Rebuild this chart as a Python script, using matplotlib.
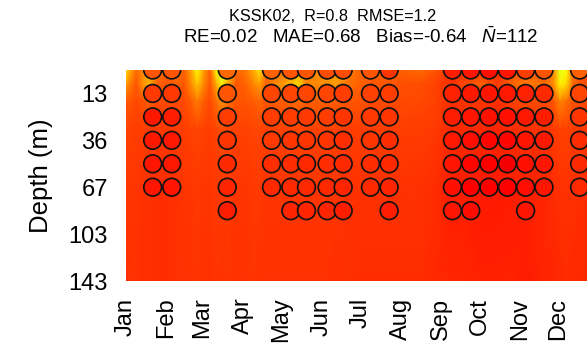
import numpy as np
import matplotlib
matplotlib.use("Agg")
import matplotlib.pyplot as plt
from matplotlib.colors import LinearSegmentedColormap, Normalize

plt.rcParams['font.family'] = ['Liberation Sans', 'DejaVu Sans']
plt.rcParams['mathtext.fontset'] = 'custom'
plt.rcParams['mathtext.rm'] = 'Liberation Sans'
plt.rcParams['mathtext.it'] = 'Liberation Sans:italic'

# ---------------- data ----------------
stats_line1 = "KSSK02,  R=0.8  RMSE=1.2"
stats_line2 = r"RE=0.02   MAE=0.68   Bias=-0.64   $\bar{N}$=112"

month_labels = ["Jan", "Feb", "Mar", "Apr", "May", "Jun",
                "Jul", "Aug", "Sep", "Oct", "Nov", "Dec"]
month_days = [1, 32, 60, 91, 121, 152, 182, 213, 244, 274, 305, 335]

depth_labels = ["13", "36", "67", "103", "143"]
depth_label_levels = [1, 3, 5, 7, 9]

# model field: time nodes (day of year) x level nodes (level index)
model_days = [1, 4, 9, 15, 19, 25, 32, 40, 46, 51, 56, 61, 66, 71, 75, 80, 86, 93,
              100, 104, 109, 116, 123, 130, 134, 140, 148, 156, 164, 172, 180, 192,
              204, 216, 228, 240, 252, 264, 276, 288, 300, 312, 324, 331, 336, 341,
              346, 352, 358, 366]
model_levels = [0, 0.6, 1.3, 2.5, 5, 9]

model_l00 = [34.30, 34.50, 34.85, 34.70, 34.60, 34.80, 34.90, 34.80, 34.90, 34.60,
             34.15, 34.60, 34.90, 34.10, 33.80, 34.30, 34.85, 34.80, 34.50, 34.25,
             34.80, 34.85, 34.80, 34.70, 34.60, 34.80, 34.70, 34.65, 34.60, 34.75,
             34.85, 34.90, 34.85, 34.90, 34.85, 34.95, 35.15, 35.15, 35.10, 35.15,
             35.00, 34.95, 34.95, 34.70, 34.00, 34.10, 34.80, 34.95, 34.95, 34.95]
model_l06 = [34.60, 34.75, 34.95, 34.60, 34.50, 34.90, 34.95, 34.90, 34.95, 34.70,
             34.40, 34.70, 34.95, 34.50, 34.20, 34.55, 34.95, 34.90, 34.70, 34.60,
             34.90, 34.70, 34.60, 34.40, 34.30, 34.70, 34.70, 34.65, 34.60, 34.80,
             34.90, 34.95, 34.95, 35.00, 35.00, 35.05, 35.15, 35.00, 34.90, 35.10,
             34.85, 34.75, 34.85, 34.70, 34.20, 34.30, 34.85, 35.00, 35.00, 35.00]
model_l13 = [34.96, 34.96, 35.01, 34.96, 34.91, 35.01, 35.01, 35.01, 35.01, 34.91,
             34.76, 34.91, 35.01, 34.81, 34.66, 34.81, 34.96, 34.96, 34.91, 34.86,
             34.96, 34.91, 34.91, 34.86, 34.86, 34.91, 34.91, 34.91, 34.91, 34.96,
             34.96, 35.01, 35.01, 35.01, 35.01, 35.06, 35.16, 35.11, 35.11, 35.16,
             35.06, 35.01, 35.01, 34.96, 34.71, 34.81, 34.96, 35.01, 35.01, 35.01]
model_l25 = [35.05, 35.05, 35.07, 35.07, 35.07, 35.09, 35.09, 35.08, 35.07, 35.05,
             35.03, 35.05, 35.07, 35.03, 35.00, 35.03, 35.05, 35.05, 35.03, 35.03,
             35.05, 35.05, 35.05, 35.03, 35.03, 35.05, 35.05, 35.05, 35.05, 35.07,
             35.07, 35.08, 35.08, 35.08, 35.08, 35.10, 35.17, 35.17, 35.17, 35.19,
             35.15, 35.13, 35.11, 35.09, 35.05, 35.05, 35.08, 35.09, 35.09, 35.09]
model_l50 = [35.11, 35.11, 35.12, 35.13, 35.13, 35.15, 35.15, 35.13, 35.12, 35.11,
             35.10, 35.11, 35.12, 35.10, 35.09, 35.10, 35.11, 35.11, 35.10, 35.10,
             35.11, 35.12, 35.12, 35.11, 35.11, 35.12, 35.12, 35.12, 35.12, 35.13,
             35.13, 35.13, 35.13, 35.14, 35.14, 35.16, 35.22, 35.23, 35.25, 35.25,
             35.23, 35.21, 35.19, 35.16, 35.13, 35.13, 35.14, 35.15, 35.15, 35.15]
model_l90 = [35.15, 35.14, 35.13, 35.15, 35.14, 35.16, 35.15, 35.14, 35.13, 35.13,
             35.12, 35.13, 35.14, 35.12, 35.14, 35.12, 35.13, 35.13, 35.12, 35.13,
             35.13, 35.14, 35.13, 35.14, 35.13, 35.14, 35.14, 35.14, 35.15, 35.14,
             35.15, 35.15, 35.15, 35.16, 35.16, 35.17, 35.19, 35.18, 35.20, 35.21,
             35.20, 35.22, 35.19, 35.18, 35.17, 35.16, 35.17, 35.17, 35.17, 35.17]

# observations: day of year of each profile, values at levels 0,1,2,...
obs_days = [21.6, 36.3, 79.2, 113.4, 128.3, 140.4, 156.3, 168.7, 189.8, 204.2,
            253.1, 267.2, 281.3, 295.5, 309.6, 323.8, 351.3]
obs_values = [
    [34.95, 35.10, 35.25, 35.25, 35.27, 35.27],
    [34.95, 35.10, 35.22, 35.25, 35.25, 35.27],
    [34.85, 34.95, 35.08, 35.12, 35.17, 35.19, 35.22],
    [34.90, 35.03, 35.08, 35.10, 35.15, 35.17],
    [34.95, 35.03, 35.08, 35.12, 35.15, 35.17, 35.19],
    [34.95, 35.03, 35.10, 35.12, 35.17, 35.17, 35.19],
    [35.00, 35.03, 35.08, 35.12, 35.15, 35.17, 35.19],
    [35.00, 35.08, 35.12, 35.15, 35.17, 35.19, 35.22],
    [34.95, 35.06, 35.10, 35.12, 35.15, 35.17],
    [35.12, 35.08, 35.12, 35.15, 35.17, 35.19, 35.22],
    [35.22, 35.20, 35.22, 35.25, 35.27, 35.29, 35.27],
    [35.27, 35.25, 35.27, 35.31, 35.34, 35.36, 35.31],
    [35.29, 35.27, 35.29, 35.34, 35.38, 35.38],
    [35.27, 35.25, 35.29, 35.34, 35.42, 35.38],
    [35.08, 35.20, 35.25, 35.27, 35.29, 35.31, 35.27],
    [34.95, 35.17, 35.22, 35.25, 35.27, 35.27],
    [34.90, 35.03, 35.12, 35.15, 35.17, 35.17],
]

vmin, vmax = 31.0, 36.0

# ---------------- plotting ----------------
jet_matlab = LinearSegmentedColormap.from_list(
    "jet_matlab",
    [(0.0, (0, 0, 0.5)), (0.125, (0, 0, 1)), (0.375, (0, 1, 1)),
     (0.625, (1, 1, 0)), (0.875, (1, 0, 0)), (1.0, (0.5, 0, 0))])
norm = Normalize(vmin=vmin, vmax=vmax)

fig = plt.figure(figsize=(5.87, 3.54), dpi=100)
ax = fig.add_axes([126 / 587, 73 / 354, 461 / 587, 211 / 354])

field = np.array([model_l00, model_l06, model_l13, model_l25, model_l50, model_l90])
X, Y = np.meshgrid(model_days, model_levels)
ax.pcolormesh(X, Y, field, shading='gouraud', cmap=jet_matlab, norm=norm,
              rasterized=True)

ox, oy, ov = [], [], []
for d, vals in zip(obs_days, obs_values):
    for lev, v in enumerate(vals):
        ox.append(d)
        oy.append(lev)
        ov.append(v)
ax.scatter(ox, oy, c=ov, cmap=jet_matlab, norm=norm, s=12.8 ** 2,
           edgecolors='#111111', linewidths=1.2, zorder=3)

ax.set_xlim(1, 357)
ax.set_ylim(9, 0)
ax.set_xticks(month_days)
ax.set_xticklabels(month_labels, rotation=90, fontsize=17)
ax.set_yticks(depth_label_levels)
ax.set_yticklabels(depth_labels, fontsize=17)
ax.tick_params(axis='both', length=0)
ax.tick_params(axis='x', pad=12)
ax.tick_params(axis='y', pad=13)
ax.set_ylabel("Depth (m)", fontsize=18.5, labelpad=11)
for s in ax.spines.values():
    s.set_visible(False)

fig.text(333 / 587, 1 - 20.7 / 354, stats_line1, ha='center', va='baseline',
         fontsize=11.7)
fig.text(361 / 587, 1 - 43.3 / 354, stats_line2, ha='center', va='baseline',
         fontsize=13.5)

fig.savefig("out.png", dpi=100)
